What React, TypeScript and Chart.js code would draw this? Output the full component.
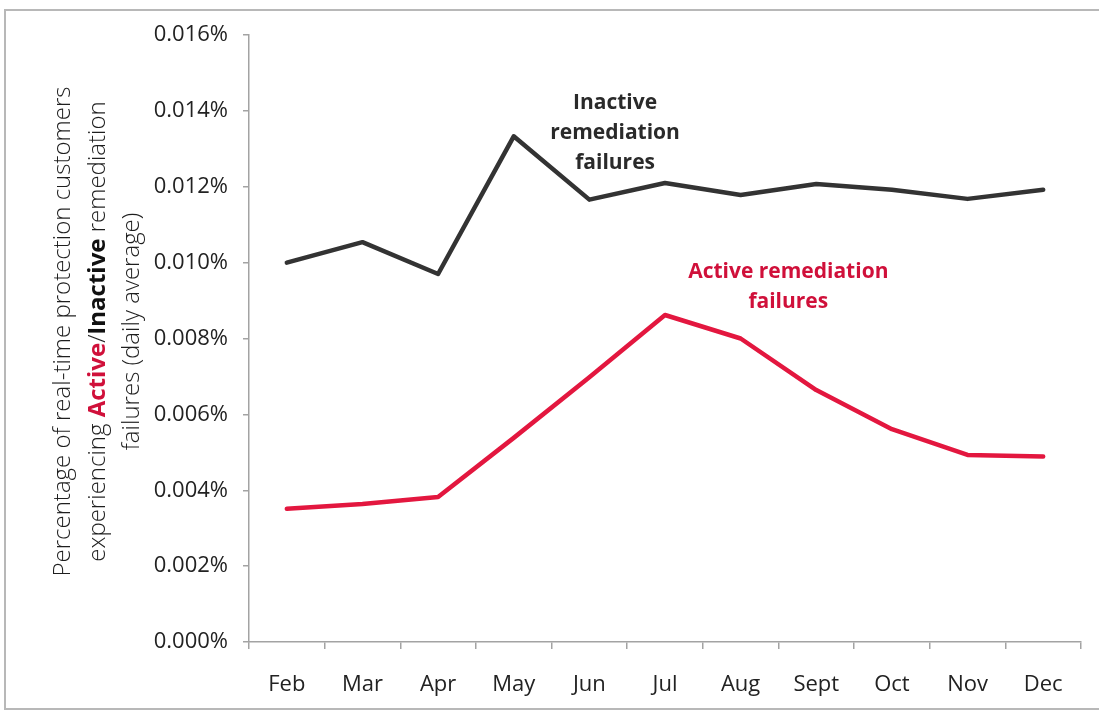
import React, { useEffect, useRef } from "react";
import { Chart, registerables } from "chart.js";

Chart.register(...registerables);

const months = ["Feb", "Mar", "Apr", "May", "Jun", "Jul", "Aug", "Sept", "Oct", "Nov", "Dec"];
const inactiveFailures = [0.01, 0.01054, 0.0097, 0.01333, 0.01166, 0.0121, 0.01178, 0.01207, 0.01192, 0.01168, 0.01192];
const activeFailures = [0.00351, 0.00364, 0.00382, 0.00538, 0.00698, 0.00862, 0.008, 0.00664, 0.00561, 0.00493, 0.00489];
const yTickValues = [0, 0.002, 0.004, 0.006, 0.008, 0.01, 0.012, 0.014, 0.016];

const inactiveLabelLines = ["Inactive", "remediation", "failures"];
const inactiveLabelAt = [4.34, 0.01342];
const activeLabelLines = ["Active remediation", "failures"];
const activeLabelAt = [6.63, 0.00936];

const RED_LINE = "#e3173f";
const RED_TEXT = "#d0103a";
const DARK = "#333333";
const AXIS = "#a3a3a3";
const FONT = "'Open Sans', 'Noto Sans', sans-serif";

const titlePlugin = {
  id: "richTitle",
  afterDraw(chart: any) {
    const ctx = chart.ctx;
    const area = chart.chartArea;
    const cy = (area.top + area.bottom) / 2 - 7;
    const lines: { text: string; bold?: boolean; color?: string }[][] = [
      [{ text: "Percentage of real-time protection customers" }],
      [
        { text: "experiencing " },
        { text: "Active", bold: true, color: RED_TEXT },
        { text: "/" },
        { text: "Inactive", bold: true, color: "#111" },
        { text: " remediation" },
      ],
      [{ text: "failures (daily average)" }],
    ];
    const xs = [63, 98, 132];
    ctx.save();
    ctx.textBaseline = "middle";
    ctx.textAlign = "left";
    lines.forEach((segs, i) => {
      let total = 0;
      const widths = segs.map((s) => {
        ctx.font = `${s.bold ? "bold " : "300 "}24px ${FONT}`;
        const w = ctx.measureText(s.text).width;
        total += w;
        return w;
      });
      ctx.save();
      ctx.translate(xs[i], cy);
      ctx.rotate(-Math.PI / 2);
      let x = -total / 2;
      segs.forEach((s, j) => {
        ctx.font = `${s.bold ? "bold " : "300 "}24px ${FONT}`;
        ctx.fillStyle = s.color || "#1e1e1e";
        ctx.fillText(s.text, x, 0);
        x += widths[j];
      });
      ctx.restore();
    });
    ctx.restore();

    const xs2 = chart.scales.x;
    const ys2 = chart.scales.y;
    const drawLabel = (linesT: string[], at: number[], color: string) => {
      const px = xs2.getPixelForValue(at[0]);
      const py = ys2.getPixelForValue(at[1]);
      const lh = 30;
      ctx.save();
      ctx.font = `bold 21px ${FONT}`;
      ctx.fillStyle = color;
      ctx.textAlign = "center";
      ctx.textBaseline = "middle";
      const start = py - ((linesT.length - 1) * lh) / 2;
      linesT.forEach((t, i) => ctx.fillText(t, px, start + i * lh));
      ctx.restore();
    };
    drawLabel(inactiveLabelLines, inactiveLabelAt, "#2a2a2a");
    drawLabel(activeLabelLines, activeLabelAt, RED_TEXT);
  },
};

export default function App() {
  const ref = useRef<HTMLCanvasElement | null>(null);
  useEffect(() => {
    if (!ref.current) return;
    const chart = new Chart(ref.current, {
      type: "line",
      data: {
        labels: months,
        datasets: [
          {
            label: "Inactive remediation failures",
            data: inactiveFailures,
            borderColor: DARK,
            borderWidth: 4.5,
            pointRadius: 0,
            tension: 0,
            borderJoinStyle: "round",
            borderCapStyle: "round",
          },
          {
            label: "Active remediation failures",
            data: activeFailures,
            borderColor: RED_LINE,
            borderWidth: 4.5,
            pointRadius: 0,
            tension: 0,
            borderJoinStyle: "round",
            borderCapStyle: "round",
          },
        ],
      },
      options: {
        animation: false,
        responsive: false,
        layout: { padding: { left: 0, top: 35, right: 18, bottom: 0 } },
        plugins: { legend: { display: false }, tooltip: { enabled: false }, title: { display: false } },
        scales: {
          x: {
            type: "category",
            offset: true,
            grid: { display: true, drawOnChartArea: false, drawTicks: true, tickLength: 7, color: AXIS, offset: true, lineWidth: 1.5 },
            border: { display: true, color: AXIS, width: 1.5 },
            ticks: { color: "#222", font: { family: FONT, size: 22 }, padding: 23, maxRotation: 0, autoSkip: false },
            afterFit: (s: any) => {
              s.height = 69;
            },
          },
          y: {
            min: 0,
            max: 0.016,
            grid: { display: true, drawOnChartArea: false, drawTicks: true, tickLength: 6, color: AXIS, lineWidth: 1.5 },
            border: { display: true, color: AXIS, width: 1.5 },
            afterBuildTicks: (s: any) => {
              s.ticks = yTickValues.map((v) => ({ value: v }));
            },
            ticks: {
              color: "#222",
              font: { family: FONT, size: 22 },
              padding: 15,
              callback: (v: any) => Number(v).toFixed(3) + "%",
            },
            afterFit: (s: any) => {
              s.width = 249;
            },
          },
        },
      },
      plugins: [titlePlugin],
    });
    return () => chart.destroy();
  }, []);
  return (
    <div style={{ position: "absolute", left: 0, top: 0, width: 1099, height: 711, overflow: "hidden", background: "#fff" }}>
      <div
        style={{
          position: "absolute",
          left: 4,
          top: 9,
          width: 1200,
          height: 697,
          border: "2px solid #b8b8b8",
        }}
      />
      <canvas ref={ref} width={1099} height={711} style={{ position: "absolute", left: 0, top: 0, width: 1099, height: 711 }} />
    </div>
  );
}
